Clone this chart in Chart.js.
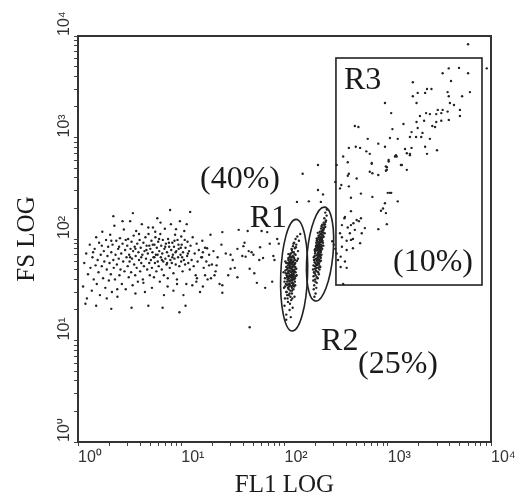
<!DOCTYPE html>
<html>
<head>
<meta charset="utf-8">
<script src="https://cdn.jsdelivr.net/npm/chart.js@4"></script>
<style>
  html, body { margin:0; padding:0; background:#fff; }
  #wrap { width:515px; height:504px; }
</style>
</head>
<body>
<div id="wrap"><canvas id="chartFlujo" width="515" height="504"></canvas></div>
<script>
// ---------------- Datos (FL1, FS) ----------------
const decadeLabels = ['10\u2070', '10\u00B9', '10\u00B2', '10\u00B3', '10\u2074'];

const leftCluster = [
  [1.12,34],[1.15,58],[1.2,72],[1.22,26],[1.25,45],[1.3,88],[1.32,52],[1.36,31],[1.38,66],[1.42,40],
  [1.45,80],[1.48,55],[1.5,104],[1.52,36],[1.55,62],[1.58,47],[1.6,92],[1.63,28],[1.66,70],[1.7,54],
  [1.72,118],[1.75,41],[1.78,76],[1.8,60],[1.84,33],[1.87,98],[1.9,50],[1.93,68],[1.96,84],[1.99,39],
  [2.02,58],[2.05,110],[2.08,45],[2.1,74],[2.13,30],[2.16,88],[2.2,62],[2.22,52],[2.25,135],[2.28,40],
  [2.31,70],[2.35,96],[2.38,56],[2.41,27],[2.45,80],[2.48,64],[2.52,44],[2.55,102],[2.58,50],[2.62,72],
  [2.66,36],[2.7,90],[2.74,60],[2.78,124],[2.82,48],[2.86,78],[2.9,32],[2.95,66],
  [3.0,86],[3.03,54],[3.06,100],[3.1,42],[3.13,70],[3.16,60],[3.2,150],[3.23,80],[3.27,47],[3.3,94],
  [3.34,64],[3.38,35],[3.42,76],[3.46,108],[3.5,56],[3.54,84],[3.58,44],[3.62,68],[3.66,120],[3.7,52],
  [3.75,90],[3.8,38],[3.85,74],[3.9,62],[3.95,98],[4.0,48],[4.05,82],[4.1,58],[4.15,140],[4.2,70],
  [4.25,40],[4.3,92],[4.35,54],[4.4,76],[4.45,30],[4.5,104],[4.56,64],[4.62,86],[4.68,50],[4.75,72],
  [4.82,112],[4.9,58],[4.96,44],
  [5.02,80],[5.08,62],[5.15,96],[5.2,52],[5.26,74],[5.32,130],[5.38,66],[5.44,42],[5.5,88],[5.56,58],
  [5.62,104],[5.68,70],[5.74,48],[5.8,82],[5.86,160],[5.92,60],[5.98,94],[6.05,54],[6.12,76],[6.2,38],
  [6.27,112],[6.34,66],[6.4,86],[6.48,50],[6.55,72],[6.63,98],[6.7,60],[6.78,44],[6.86,80],[6.94,126],
  [7.02,64],[7.1,90],[7.2,56],[7.28,74],[7.38,34],[7.46,100],[7.55,68],[7.64,84],[7.74,52],[7.84,62],
  [7.94,140],[8.0,78],
  [8.1,58],[8.2,92],[8.3,70],[8.4,46],[8.5,84],[8.6,64],[8.72,110],[8.84,56],[8.96,76],[9.08,40],
  [9.2,98],[9.32,66],[9.45,80],[9.58,54],[9.7,150],[9.84,70],[9.98,60],[10.1,88],[10.3,48],[10.4,74],
  [10.6,62],[10.7,120],[10.9,56],[11.0,82],[11.2,36],[11.4,68],[11.5,94],[11.7,58],[11.9,76],[12.1,50],
  [12.3,86],[12.6,62],[12.9,104],[13.2,54],[13.5,72],[13.8,44],[14.1,90],[14.4,60],[14.8,78],[15.2,30],
  [15.6,66],[16.0,96],[16.5,52],[17.0,82],[17.5,60],[18.0,40],[18.6,70],[19.2,110],[19.8,56],
  [1.18,23],[1.5,22],[2.1,20.5],[3.3,21],[4.8,22],[6.6,21],[9.6,19],[11,22],
  [3.4,180],[7.8,193],[2.2,168],[12.2,185],
  [4.1,66],[4.6,78],[5.3,88],[5.9,70],[6.5,62],[7.0,84],[7.6,92],[8.2,66],[8.8,74],[9.4,88],
  [10.2,66],[10.8,98],[11.6,72],[6.1,100],[5.5,66],[4.9,86],[7.3,58],[8.6,96],[9.9,82],[3.6,80],
  [3.2,66],[2.9,98],[2.5,84],[2.1,96],[1.7,86],[1.4,74],
  [2.4,32],[3.6,29],[5.2,33],[6.8,28],[8.4,31],[10.5,28],[12.8,35],[1.9,26],[4.3,37],[7.4,41],
  [9.1,36],[14,38],[2.7,150],[4.8,130],[6.3,145],[8.9,125],[11.3,140],[5.6,118],[3.9,112],[10,106]
];

const midScatter = [
  [25,117],[36,123],[44,120],[68,117],[40,85],[58,83],[45,76],[42,67],[50,70],[62,65],
  [30,70],[30,51],[35,42],[46,51],[54,37],[65,33],[25,35],[25,29.5],[17,44],[19.4,41],
  [16.2,34],[18.6,55],[16.2,74],[17.8,81],[15.9,66],[14.2,41],[22,55],[21,44],
  [20.5,76],[21.5,48],[22.5,66],[23.5,36],[24.5,88],[27,72],[28.5,44],[31.5,62],[33,52],[35,80],
  [39,68],[41,92],[48,74],[51,46],[57,62],[60,120],[72,90],[76,38],[80,62],[85,100],[78,68],[88,90],
  [46,13.5],
  [211,536],[150,440],[132,232],[172,235],[225,232],[211,304],[236,275],[310,365]
];

const r1Cells = [
  [104,18],[112,20],[100,22],[120,21],[108,24],[116,25],[101,26],[125,27],[110,28],[118,29],
  [104,30],[114,31],[122,32],[99,33],[108,33],[117,34],[127,35],[103,36],[112,36],[120,37],
  [106,38],[115,39],[124,40],[101,41],[110,41],[118,42],[128,43],[105,44],[113,44],[121,45],
  [108,46],[116,47],[125,48],[102,49],[111,49],[119,50],[130,51],[107,52],[115,53],[123,54],
  [110,55],[118,56],[126,57],[104,58],[113,59],[121,60],[132,61],[109,62],[117,63],[124,65],
  [112,66],[120,68],[128,70],[115,72],[123,74],[135,76],[118,78],[126,81],[121,85],[130,88],
  [124,92],[138,96],[128,100],[133,106],[142,112],[113,35],[119,39],[107,43],[123,47],[111,52],
  [117,58],[125,62],[114,67],[106,28],[119,26],[131,44],[100,38],[127,53],[109,71],[98,47],
  [135,64],[102,60],[112,38],[118,45],[106,50],[124,56],[115,42],[109,36],[121,49],[113,54],
  [118,33],[126,41],[110,46],[116,51],[120,59],[107,40],[122,36],[114,63],[111,57],[119,44],
  [125,50],[103,46],[117,37],[108,55],[123,43],[115,48],[112,60],[120,53],[106,35],[118,66],
  [127,58],[110,32],[104,16],[115,17],
  [105,30],[111,34],[117,40],[123,45],[109,48],[114,52],[120,56],[126,62],[108,58],[116,61],
  [122,67],[113,70],[119,74],[110,39],[116,44],[104,53],[121,41],[128,47],[112,29],[118,31],
  [124,34],[107,26],[113,23],[119,48],[115,57],[109,65],[125,71],[117,80],[122,90],[129,83],
  [111,43],[106,42],[120,35],[114,27],[101,34],[126,38]
];

const r2Cells = [
  [195,27],[200,29],[192,32],[203,33],[194,35],[205,37],[190,39],[198,40],[210,41],[191,43],
  [200,44],[215,45],[193,47],[205,48],[189,50],[198,51],[212,52],[222,53],[191,55],[203,56],
  [216,57],[196,59],[208,60],[225,61],[200,63],[213,64],[192,66],[218,67],[205,69],[228,70],
  [198,72],[211,73],[222,75],[204,77],[215,78],[232,80],[208,82],[220,84],[202,86],[226,88],
  [213,90],[236,92],[218,95],[206,97],[230,99],[222,102],[240,105],[214,108],[228,111],[245,114],
  [220,118],[235,122],[226,127],[248,132],[232,138],[240,145],[252,152],[243,160],[256,170],[248,182],
  [258,195],[212,58],[224,65],[196,78],[238,86],[210,100],[219,71],[201,49],[230,118],[207,88],
  [242,128],[193,62],[216,82],[226,95],[235,108],[205,62],[215,70],[198,75],[222,80],[210,66],
  [218,92],[202,84],[226,100],[212,78],[200,58],[220,60],[208,94],[230,86],[214,104],[196,68],
  [224,74],[206,55],[217,86],[228,112],[210,115],[203,92],[219,54],[233,96],[199,80],[212,63],
  [199,38],[206,42],[212,47],[218,50],[204,52],[210,56],[216,62],[223,67],[209,71],[214,75],
  [221,78],[227,83],[211,85],[217,89],[224,93],[231,97],[219,99],[225,105],[233,110],[238,116],
  [222,112],[229,120],[236,130],[242,138],[228,134],[196,46],[202,64],[208,80],[220,70],[197,54],
  [213,69],[226,77],[205,101],[217,108],[232,103],[239,124],[246,140],[251,148]
];

const r3Cells = [
  [6000,8300],[9100,4800],[3900,4800],[4900,4850],[6000,4300],[3400,4300],[1750,3500],[4100,3600],
  [2400,3000],[2650,3000],[1950,2750],[1750,2550],[2300,2750],[3800,2800],[3900,2550],[6250,2800],
  [5250,2550],[940,2190],[1900,2190],[4000,2190],[4380,2090],[3050,1870],[3400,1870],[3800,1800],
  [5000,1870],[1080,1740],[2350,1740],[2560,1700],[2950,1700],[3300,1740],[2050,1630],[5000,1630],
  [1900,1420],[2250,1460],[2950,1420],[3300,1460],[1420,1360],[3900,1490],[480,1300],[520,1270],
  [1110,1210],[1700,1130],[1950,1240],[2170,1110],[2700,1300],[2870,1270],[640,970],[1050,990],
  [1250,970],[1640,1010],[1880,1010],[2110,1010],[2560,970],[420,790],[490,810],[620,730],
  [810,870],[940,810],[1470,770],[1700,790],[2300,810],[3000,750],[370,650],[1175,650],
  [1530,700],[1640,670],[2400,690],[320,536],[410,570],[540,790],[420,440],[500,395],
  [700,550],[960,520],[960,470],[1020,580],[1340,536],[1530,480],[1200,670],[345,315],
  [420,330],[710,445],[810,427],[1050,285],[1000,285],[1250,235],[550,280],[440,255],
  [710,260],[900,200],[960,180],[440,188],[500,154],[550,160],[600,128],[810,125],
  [380,160],[410,130],[440,98],[345,114],[410,420],[355,340],[1080,285],[940,225],
  [860,190],[980,140],[525,150],[465,143],[440,137],[385,165],[360,137],[480,123],
  [430,114],[560,114],[460,100],[400,96],[360,104],[540,91],[460,81],[400,78],
  [360,84],[350,67],[385,60],[350,53],[670,690],[1220,650],[1640,690],[1020,600],
  [1370,536],[700,560],[670,460],[980,510],[980,480],[400,52],[370,36],
  [320,72],[300,88],[330,62],[290,95],[310,80]
];

// regiones (en unidades de datos; anchos en décadas)
const gateEllipses = [
  { fl1:124, fs:44, halfDecX:0.13, halfDecY:0.55, tilt:2 },
  { fl1:221, fs:71, halfDecX:0.125, halfDecY:0.465, tilt:5.5 }
];
const gateRect = { fl1Min:315, fl1Max:8180, fsMin:35.2, fsMax:6070 };
const gateLabels = [
  { text:'(40%)', fl1:15.2, fs:318 },
  { text:'R1', fl1:46, fs:131 },
  { text:'R3', fl1:377, fs:3000 },
  { text:'(10%)', fl1:1125, fs:48.4 },
  { text:'R2', fl1:226, fs:8.1 },
  { text:'(25%)', fl1:515, fs:4.8 }
];

// ---------------- Helpers ----------------
const toPoints = arr => arr.map(([a, b]) => ({ x:a, y:b }));

function keepDecadeSteps(scale) {
  scale.ticks = scale.ticks.filter(t => {
    const m = t.value / Math.pow(10, Math.floor(Math.log10(t.value) + 1e-9));
    return Math.abs(m - Math.round(m)) < 1e-6;
  });
}
function tickLabel(value) {
  const e = Math.log10(value);
  return Math.abs(e - Math.round(e)) < 1e-9 ? decadeLabels[Math.round(e)] : '';
}

const regionPlugin = {
  id:'regiones',
  afterDatasetsDraw(chart) {
    const { ctx, chartArea:a, scales:{ x, y } } = chart;
    ctx.save();
    ctx.strokeStyle = '#333';
    ctx.lineWidth = 2;
    ctx.strokeRect(a.left, a.top, a.right - a.left, a.bottom - a.top);

    ctx.lineWidth = 1.6;
    ctx.strokeStyle = '#222';
    gateEllipses.forEach(g => {
      const cx = x.getPixelForValue(g.fl1), cy = y.getPixelForValue(g.fs);
      const rx = x.getPixelForValue(g.fl1 * Math.pow(10, g.halfDecX)) - cx;
      const ry = cy - y.getPixelForValue(g.fs * Math.pow(10, g.halfDecY));
      ctx.beginPath();
      ctx.ellipse(cx, cy, rx, ry, g.tilt * Math.PI / 180, 0, 2 * Math.PI);
      ctx.stroke();
    });

    const rx0 = x.getPixelForValue(gateRect.fl1Min), rx1 = x.getPixelForValue(gateRect.fl1Max);
    const ry0 = y.getPixelForValue(gateRect.fsMax), ry1 = y.getPixelForValue(gateRect.fsMin);
    ctx.strokeRect(rx0, ry0, rx1 - rx0, ry1 - ry0);

    ctx.fillStyle = '#1a1a1a';
    ctx.font = '32px "Liberation Serif", "Times New Roman", serif';
    ctx.textAlign = 'left';
    ctx.textBaseline = 'alphabetic';
    gateLabels.forEach(l => {
      ctx.fillText(l.text, x.getPixelForValue(l.fl1), y.getPixelForValue(l.fs));
    });
    ctx.restore();
  }
};

// ---------------- Gráfico ----------------
const puntos = { pointRadius:1.2, pointHoverRadius:1.2, pointBorderWidth:0, pointBackgroundColor:'#222', xAxisID:'x', yAxisID:'y' };
const tickFont = { family:'"Liberation Sans", Arial, sans-serif', size:16 };
const titleFont = { family:'"Liberation Serif", "Times New Roman", serif', size:25 };

new Chart(document.getElementById('chartFlujo').getContext('2d'), {
  type:'scatter',
  data:{ datasets:[
    { label:'left', data:toPoints(leftCluster), ...puntos },
    { label:'mid', data:toPoints(midScatter), ...puntos },
    { label:'R1', data:toPoints(r1Cells), ...puntos },
    { label:'R2', data:toPoints(r2Cells), ...puntos },
    { label:'R3', data:toPoints(r3Cells), ...puntos }
  ]},
  options:{
    responsive:false, animation:false,
    layout:{ padding:{ top:36, right:24, left:0, bottom:0 } },
    plugins:{ legend:{ display:false }, tooltip:{ enabled:false } },
    scales:{
      x:{
        type:'logarithmic', min:1, max:10000, position:'bottom',
        afterBuildTicks:keepDecadeSteps,
        afterFit:s => { s.height = 62; s.paddingLeft = 0; s.paddingRight = 0; },
        border:{ display:true, color:'#333', width:2 },
        grid:{ display:true, drawOnChartArea:false, drawTicks:true, tickLength:4, color:'#444', lineWidth:1 },
        ticks:{ autoSkip:false, minRotation:0, maxRotation:0, align:'start', padding:2, color:'#333', font:tickFont, callback:tickLabel },
        title:{ display:true, text:'FL1 LOG', color:'#1a1a1a', font:titleFont, padding:{ top:0, bottom:4 } }
      },
      y:{
        type:'logarithmic', min:1, max:10000, position:'left', weight:0,
        afterBuildTicks:keepDecadeSteps,
        afterFit:s => { s.width = 21; s.paddingTop = 0; s.paddingBottom = 0; },
        border:{ display:true, color:'#333', width:2 },
        grid:{ display:true, drawOnChartArea:false, drawTicks:true, tickLength:4, color:'#444', lineWidth:1 },
        ticks:{ autoSkip:false, minRotation:90, maxRotation:90, crossAlign:'far', align:'start', padding:2, color:'#333', font:tickFont, callback:tickLabel },
        title:{ display:false }
      },
      yTitulo:{
        type:'linear', position:'left', weight:1,
        afterFit:s => { s.width = 57; },
        grid:{ display:false }, border:{ display:false }, ticks:{ display:false },
        title:{ display:true, text:'FS LOG', color:'#1a1a1a', font:titleFont, padding:{ top:12, bottom:0 } }
      }
    }
  },
  plugins:[regionPlugin]
});
</script>
</body>
</html>
